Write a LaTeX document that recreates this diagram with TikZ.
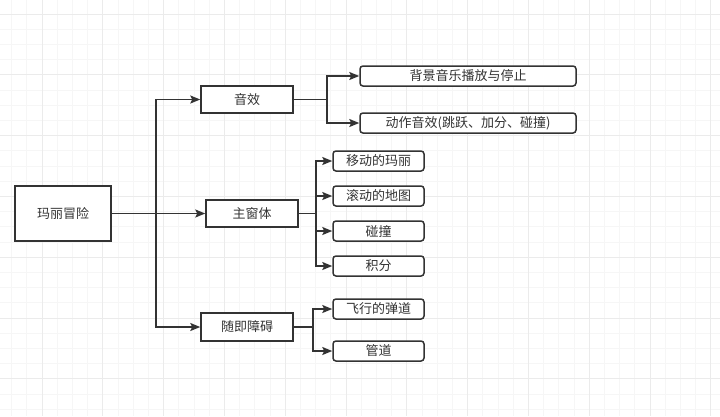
\documentclass[tikz,border=0pt]{standalone}
\usepackage{fontspec}
\newfontfamily\cjk{Noto Sans CJK SC}
\usetikzlibrary{arrows.meta}

\definecolor{gridminor}{HTML}{F6F6F6}
\definecolor{gridmajor}{HTML}{EBEBEB}
\definecolor{ink}{HTML}{333333}

\begin{document}
\begin{tikzpicture}[x=1pt, y=-1pt,
    box/.style={
        rectangle, draw=ink, line width=1.5pt, fill=white, inner sep=0pt,
        font=\cjk\fontsize{13}{15}\selectfont, text=ink
    },
    midbox/.style={box, minimum width=92pt, minimum height=27pt},
    leaf/.style={box, rounded corners=3pt, minimum width=91pt, minimum height=20pt},
    wideleaf/.style={leaf, minimum width=216pt},
    arrow/.style={-{Stealth[length=10pt,width=8pt,inset=2pt]}, line width=1.7pt, ink}
]
\useasboundingbox (0,0) rectangle (720,416);
\fill[white] (0,0) rectangle (720,416);

% grid
\foreach \k in {-2,...,44}
    \draw[gridminor, line width=0.8pt] ({42+15.2*\k},0) -- ({42+15.2*\k},416);
\foreach \k in {0,...,26}
    \draw[gridminor, line width=0.8pt] (0,{14+15.2*\k}) -- (720,{14+15.2*\k});
\foreach \k in {0,4,...,44}
    \draw[gridmajor, line width=0.8pt] ({42+15.2*\k},0) -- ({42+15.2*\k},416);
\foreach \k in {0,4,...,24}
    \draw[gridmajor, line width=0.8pt] (0,{14+15.2*\k}) -- (720,{14+15.2*\k});

\node[box, minimum width=96pt, minimum height=55pt] (mario) at (63,213.5) {玛丽冒险};

\node[midbox] (sound)  at (247,99.5)  {音效};
\node[midbox] (window) at (252,213.5) {主窗体};
\node[midbox, minimum height=28pt] (obst) at (247,327) {随即障碍};

\node[wideleaf] (bgm) at (468,76)  {背景音乐播放与停止};
\node[wideleaf] (sfx) at (468,123) {动作音效(跳跃、加分、碰撞)};

\node[leaf] (walk)  at (378.5,161) {移动的玛丽};
\node[leaf] (map)   at (378.5,196) {滚动的地图};
\node[leaf] (hit)   at (378.5,231) {碰撞};
\node[leaf] (score) at (378.5,266) {积分};

\node[leaf] (bullet) at (378.5,309) {飞行的弹道};
\node[leaf] (pipe)   at (378.5,351) {管道};

\coordinate (j0) at (156,213.5);
\coordinate (j1) at (327,99.5);
\coordinate (j2) at (316,213.5);
\coordinate (j3) at (313,327);

\draw[arrow] (mario.east) -- (j0) |- (sound.west);
\draw[arrow] (mario.east) -- (window.west);
\draw[arrow] (mario.east) -- (j0) |- (obst.west);
\foreach \c in {bgm,sfx}
    \draw[arrow] (sound.east) -- (j1) |- (\c.west);
\foreach \c in {walk,map,hit,score}
    \draw[arrow] (window.east) -- (j2) |- (\c.west);
\foreach \c in {bullet,pipe}
    \draw[arrow] (obst.east) -- (j3) |- (\c.west);
\end{tikzpicture}
\end{document}
